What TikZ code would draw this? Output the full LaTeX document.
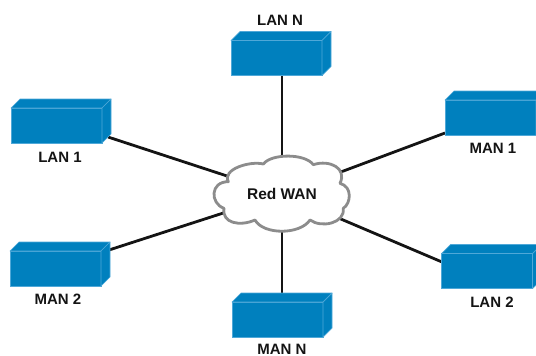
\documentclass[tikz,border=0pt]{standalone}
\usepackage{fontspec}
\setmainfont{Liberation Sans}
\usetikzlibrary{backgrounds}
\definecolor{boxblue}{HTML}{0080BE}
\definecolor{boxedge}{HTML}{4FA8D8}
\definecolor{cloudgray}{HTML}{8C8C8C}
\tikzset{
  x=1pt,y=-1pt,
  netbox/.style={rectangle,fill=boxblue,draw=boxedge,line width=0.7pt,minimum width=91pt,minimum height=35pt,inner sep=0pt,outer sep=0pt},
  boxface/.style={fill=boxblue,draw=boxedge,line width=0.7pt,line join=round},
  lbl/.style={font=\fontsize{15}{17}\selectfont\bfseries,text=black!92,inner sep=0pt},
  wire/.style={line width=2.8pt,draw=black!92},
  cloudline/.style={fill=white,draw=cloudgray,line width=2.8pt,line join=round},
}
\newcommand{\netunit}[3]{%
  \node[netbox] (#1) at (#2,#3) {};
  \path[boxface] (#1.north west) -- ++(9,-9) -- ++(91,0) -- ++(-9,9) -- cycle;
  \path[boxface] (#1.north east) -- ++(9,-9) -- ++(0,35) -- ++(-9,9) -- cycle;
}
\begin{document}
\begin{tikzpicture}
\clip (0,0) rectangle (536,356);
% cloud
\begin{scope}[shift={(200,140)},x=0.3333pt,y=-0.3333pt]
\path[cloudline] (85,125)
  .. controls (65,88) and (150,62) .. (190,72)
  .. controls (215,40) and (315,40) .. (340,74)
  .. controls (390,58) and (442,85) .. (420,130)
  .. controls (458,140) and (453,190) .. (430,205)
  .. controls (435,250) and (365,265) .. (330,240)
  .. controls (300,285) and (190,285) .. (165,240)
  .. controls (120,260) and (65,250) .. (72,205)
  .. controls (30,190) and (30,125) .. (85,125) -- cycle;
\end{scope}
\node[lbl,font=\fontsize{15.5}{17}\selectfont\bfseries] (wan) at (282,194) {Red WAN};
% boxes
\netunit{lan1}{56.5}{125.5}
\netunit{lann}{276.5}{58}
\netunit{man1}{490.5}{117.5}
\netunit{lan2}{487}{271}
\netunit{man2}{55.5}{268.5}
\netunit{mann}{277.5}{319.5}
% connector ends
\coordinate (p1) at (108,137);
\coordinate (p2) at (282,75);
\coordinate (p3) at (445,133);
\coordinate (p4) at (442,262);
\coordinate (p5) at (109,250);
\coordinate (p6) at (282,293);
\begin{pgfonlayer}{background}
\foreach \e in {p1,p2,p3,p4,p5,p6} \draw[wire] (\e) -- (wan.center);
\end{pgfonlayer}
% labels
\node[lbl] (t1) at (60,157) {LAN 1};
\node[lbl] (t2) at (280,20) {LAN N};
\node[lbl] (t3) at (493,148) {MAN 1};
\node[lbl] (t4) at (492,302) {LAN 2};
\node[lbl] (t5) at (58,299) {MAN 2};
\node[lbl] (t6) at (282,349) {MAN N};
\end{tikzpicture}
\end{document}
